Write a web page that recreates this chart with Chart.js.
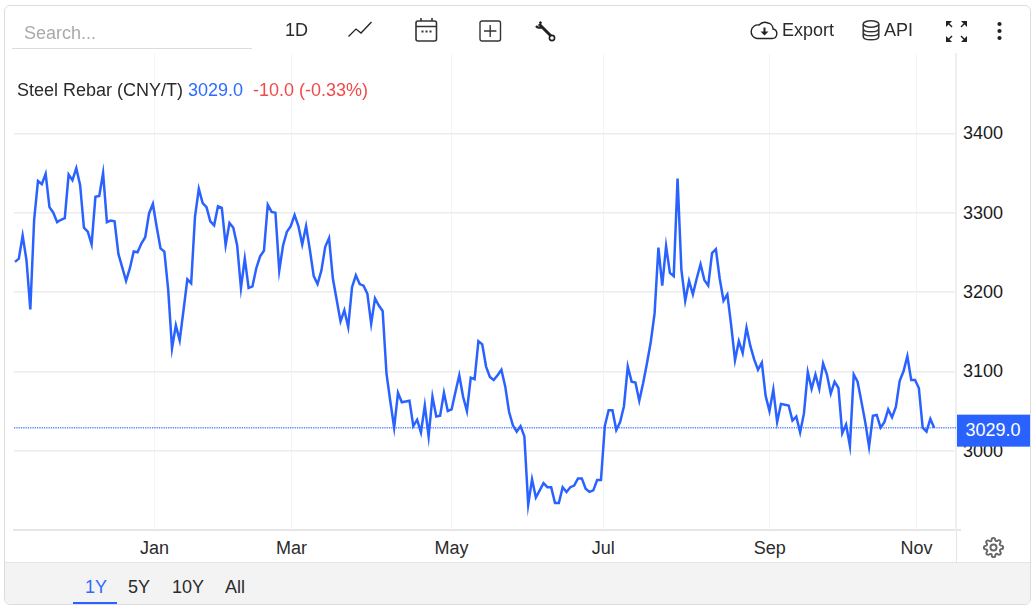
<!DOCTYPE html>
<html><head><meta charset="utf-8">
<script src="https://cdn.jsdelivr.net/npm/chart.js@4"></script>
<style>
html,body{margin:0;padding:0;background:#fff;width:1034px;height:608px;overflow:hidden;font-family:"Liberation Sans",Arial,sans-serif;color:#2b2b2b}
#frame{position:absolute;left:4px;top:5px;width:1027px;height:600px;border:1px solid #dcdcdc;border-radius:6px;box-sizing:border-box;pointer-events:none;z-index:5}
#footer{position:absolute;left:5px;top:562px;width:1025px;height:42px;background:#f3f3f3;border-top:1px solid #e4e4e4;box-sizing:border-box;border-radius:0 0 6px 6px}
canvas{position:absolute;left:0;top:0}
.t{position:absolute;white-space:nowrap;line-height:20px;font-size:18px;z-index:4}
svg{position:absolute;z-index:4;overflow:visible}
#under{position:absolute;left:12px;top:48px;width:240px;height:1px;background:#dcdcdc;z-index:4}
#tab{position:absolute;left:73px;top:602px;width:44px;height:2px;background:#2962ff;z-index:6}
#vtail{position:absolute;left:956px;top:531px;width:1px;height:31px;background:#e4e4e4;z-index:4}
#htail{position:absolute;left:956px;top:529px;width:5px;height:2px;background:#e8e8e8;z-index:4}
</style></head><body>
<canvas id="c" width="1034" height="608"></canvas>
<div id="footer"></div><div id="frame"></div><div id="vtail"></div><div id="htail"></div>
<span class="t" style="left:24px;top:23px;color:#aaa">Search...</span><div id="under"></div>
<span class="t" style="left:285px;top:20px">1D</span>
<svg style="left:348px;top:21px" width="24" height="17" fill="none" stroke="#222" stroke-width="1.3"><path d="M0.5 15.5 L8 8 L13 12 L23.5 1"/></svg>
<svg style="left:415px;top:17px" width="23" height="25" fill="none" stroke="#333" stroke-width="1.6"><rect x="1" y="4" width="20.5" height="20" rx="2"/><path d="M1 9.5H21.5M6 1V4M17 1V4"/><path d="M6.5 14.5h2M10.5 14.5h2M14.5 14.5h2" stroke-width="2"/></svg>
<svg style="left:479px;top:20px" width="23" height="22" fill="none" stroke="#333" stroke-width="1.4"><rect x="1" y="1" width="20.5" height="20" rx="2"/><path d="M11.2 5V17M5 11H17.4"/></svg>
<svg style="left:535px;top:21px" width="21" height="21" fill="none" stroke="#222"><path d="M4 3 L16 15" stroke-width="3"/><path d="M1 5 A4.5 4.5 0 0 0 7 6 M4.5 0.8 L6.5 2.5" stroke-width="2.2"/><circle cx="17" cy="17" r="2.6" fill="#fff" stroke-width="1.6"/></svg>
<svg style="left:751px;top:20px" width="27" height="20" fill="none" stroke="#222" stroke-width="1.4"><path d="M6 18.5 H21 A4.8 4.8 0 0 0 22 9 A6 6 0 0 0 17 3 A8 8 0 0 0 8 5 A6.5 6.5 0 0 0 6 18.5Z"/><path d="M13.5 7.5V14" stroke-width="2"/><path d="M9.5 11.5H17.5L13.5 15.5Z" fill="#222" stroke="none"/></svg>
<span class="t" style="left:782px;top:20px">Export</span>
<svg style="left:862px;top:20px" width="18" height="21" fill="none" stroke="#333" stroke-width="1.5"><ellipse cx="9" cy="4" rx="7.8" ry="3.2"/><path d="M1.2 4V16.5C1.2 18.5 4.5 19.8 9 19.8S16.8 18.5 16.8 16.5V4M1.2 8.5C1.2 10.5 4.5 11.8 9 11.8S16.8 10.5 16.8 8.5M1.2 12.5C1.2 14.5 4.5 15.8 9 15.8S16.8 14.5 16.8 12.5"/></svg>
<span class="t" style="left:884px;top:20px">API</span>
<svg style="left:945px;top:20px" width="23" height="23" fill="#222" stroke="#222" stroke-width="1.4"><path d="M1 7V1H7Z" stroke="none"/><path d="M1.5 1.5L7 7"/><path d="M22 7V1H16Z" stroke="none"/><path d="M21.5 1.5L16 7"/><path d="M1 16V22H7Z" stroke="none"/><path d="M1.5 21.5L7 16"/><path d="M22 16V22H16Z" stroke="none"/><path d="M21.5 21.5L16 16"/></svg>
<svg style="left:996px;top:21px" width="7" height="20" fill="#222"><circle cx="3.5" cy="3" r="2.1"/><circle cx="3.5" cy="10" r="2.1"/><circle cx="3.5" cy="17" r="2.1"/></svg>
<span class="t" style="left:17px;top:80px">Steel Rebar (CNY/T)</span>
<span class="t" style="left:188px;top:80px;color:#2f6bff">3029.0</span>
<span class="t" style="left:253px;top:80px;color:#f14a4a">-10.0 (-0.33%)</span>
<svg style="left:982.5px;top:536.5px" width="21" height="21" viewBox="0 0 24 24" fill="none" stroke="#666" stroke-width="2.2"><circle cx="12" cy="12" r="3.5"/><path d="M19.4 15a1.65 1.65 0 0 0 .33 1.82l.06.06a2 2 0 1 1-2.83 2.83l-.06-.06a1.65 1.65 0 0 0-2.82 1.17V21a2 2 0 1 1-4 0v-.09a1.65 1.65 0 0 0-2.8-1.14l-.06.06a2 2 0 1 1-2.83-2.83l.06-.06a1.65 1.65 0 0 0-1.17-2.82H3a2 2 0 1 1 0-4h.09a1.65 1.65 0 0 0 1.14-2.8l-.06-.06a2 2 0 1 1 2.83-2.83l.06.06a1.65 1.65 0 0 0 2.82-1.17V3a2 2 0 1 1 4 0v.09a1.65 1.65 0 0 0 2.8 1.14l.06-.06a2 2 0 1 1 2.83 2.83l-.06.06a1.65 1.65 0 0 0 1.17 2.82H21a2 2 0 1 1 0 4h-.09a1.65 1.65 0 0 0-1.51 1z"/></svg>
<span class="t" style="left:85px;top:577px;color:#2f6bff">1Y</span><div id="tab"></div>
<span class="t" style="left:128px;top:577px">5Y</span>
<span class="t" style="left:172px;top:577px">10Y</span>
<span class="t" style="left:225px;top:577px">All</span>
<script>
const prices = [
3238,3242,3271,3240,3178,3291,3340,3336,3349,3307,3300,3288,3291,3293,3348,3341,3356,3335,3281,3276,
3260,3320,3321,3350,3288,3290,3289,3248,3231,3214,3230,3251,3250,3261,3269,3299,3311,3282,3255,3251,
3203,3129,3158,3139,3177,3216,3211,3295,3330,3312,3307,3289,3284,3308,3306,3259,3287,3281,3259,3205,
3242,3205,3207,3230,3245,3252,3310,3301,3300,3227,3259,3276,3283,3297,3283,3260,3283,3253,3220,3210,
3227,3257,3268,3217,3190,3163,3177,3156,3206,3221,3210,3208,3198,3160,3192,3183,3176,3097,3062,3029,
3073,3061,3062,3063,3031,3039,3023,3057,3018,3068,3043,3044,3073,3050,3052,3074,3095,3068,3050,3092,
3090,3138,3134,3106,3093,3089,3095,3102,3081,3049,3032,3024,3031,3018,2932,2964,2941,2950,2959,2954,
2954,2934,2934,2954,2948,2954,2956,2965,2965,2952,2948,2950,2963,2963,3031,3051,3051,3026,3036,3056,
3106,3087,3086,3063,3085,3110,3137,3173,3256,3208,3258,3224,3220,3343,3228,3189,3214,3197,3217,3235,
3215,3208,3249,3254,3217,3189,3197,3158,3114,3138,3123,3155,3132,3115,3102,3111,3069,3050,3077,3036,
3059,3058,3057,3038,3043,3023,3047,3099,3078,3096,3078,3110,3096,3072,3087,3079,3022,3033,3006,3096,
3087,3062,3036,3005,3044,3045,3029,3036,3052,3042,3055,3088,3100,3119,3089,3089,3079,3029,3024,3040,3029];
const monthLabels = ['Jan','Mar','May','Jul','Sep','Nov'];
const monthIndex = [36.4,72.2,114,153.6,197.1,235.4];
const priceTicks = [3000,3100,3200,3300,3400];
const lastValue = prices[prices.length-1];
const xMin=-0.26, xMax=245.7;

const badge = {id:'badge',
 beforeDraw(ch){const c=ch.ctx;c.save();c.fillStyle='#fff';c.fillRect(0,0,ch.width,ch.height);c.restore();},
 afterDraw(ch){
  const c=ch.ctx, y=ch.scales.y.getPixelForValue(lastValue);
  c.save();
  c.fillStyle='#2962ff';c.fillRect(957,y-13,73,32);
  c.fillStyle='#fff';c.font='18px "Liberation Sans"';c.textAlign='center';c.textBaseline='middle';
  c.fillText(lastValue.toFixed(1),993,y+3.5);
  c.restore();
}};
const el=document.getElementById('c');
el.getContext('2d',{alpha:false});
new Chart(el,{
  type:'line',
  data:{datasets:[
    {data:prices.map((y,x)=>({x,y})),borderColor:'#2962ff',borderWidth:2.5,pointRadius:0,tension:0,order:1},
    {data:[{x:xMin,y:lastValue},{x:xMax,y:lastValue}],borderColor:'rgba(41,98,255,0.75)',borderWidth:1.5,borderDash:[1.3,1],pointRadius:0,order:2}
  ]},
  options:{
    responsive:false,animation:false,devicePixelRatio:1,
    layout:{padding:{left:14,top:54,right:0,bottom:0}},
    plugins:{legend:{display:false},tooltip:{enabled:false}},
    scales:{
      x:{type:'linear',min:xMin,max:xMax,
        afterBuildTicks(s){s.ticks=monthIndex.map(value=>({value}))},
        afterFit(s){s.height=78},
        ticks:{autoSkip:false,maxRotation:0,color:'#2b2b2b',font:{size:18,family:'"Liberation Sans"'},padding:8,
          callback:v=>monthLabels[monthIndex.indexOf(v)]},
        grid:{color:'#f1f4f8',lineWidth:1,drawTicks:false},
        border:{color:'#e6e6e6',width:2}},
      y:{position:'right',min:2900,max:3500,
        afterBuildTicks(s){s.ticks=priceTicks.map(value=>({value}))},
        afterFit(s){s.width=78},
        ticks:{color:'#1a1a1a',font:{size:18,family:'"Liberation Sans"'},padding:7,labelOffset:1,z:1,callback:v=>String(v)},
        grid:{color:'#ececec',lineWidth:1.5,drawTicks:false},
        border:{color:'#eceff3',width:2}}
    }
  },
  plugins:[badge]
});
</script>
</body></html>
